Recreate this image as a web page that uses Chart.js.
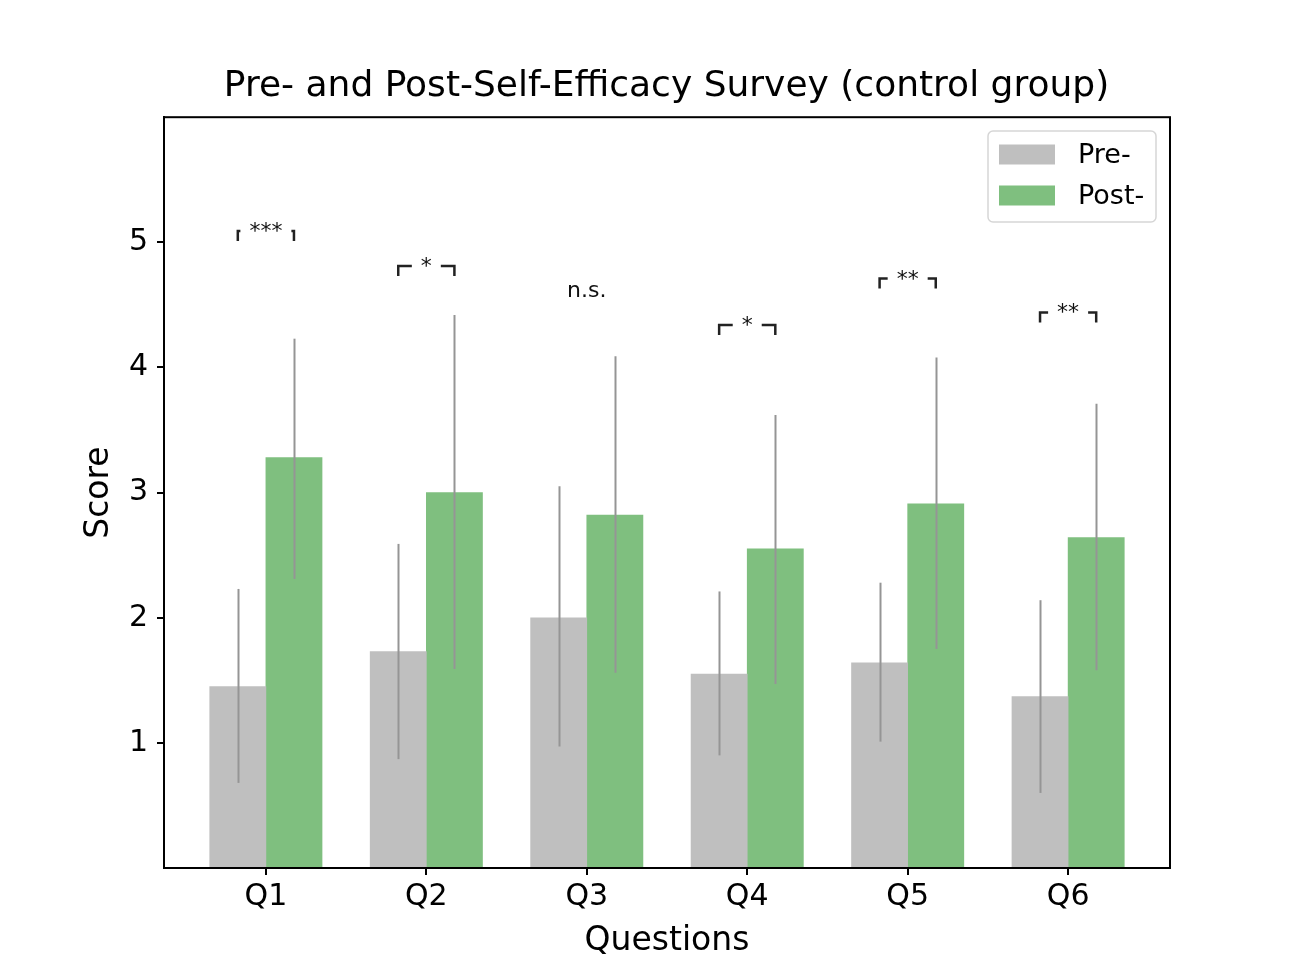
<!DOCTYPE html>
<html>
<head>
<meta charset="utf-8">
<script src="https://cdn.jsdelivr.net/npm/chart.js@4.4.1/dist/chart.umd.min.js"></script>
<style>
  html, body { margin: 0; padding: 0; background: #fff; }
  #wrap { width: 1300px; height: 975px; }
</style>
</head>
<body>
<div id="wrap"><canvas id="chart" width="1300" height="975"></canvas></div>
<script>
const questions = ["Q1", "Q2", "Q3", "Q4", "Q5", "Q6"];
const preMeans = [1.45, 1.73, 2.00, 1.55, 1.64, 1.37];
const preLow = [0.68, 0.87, 0.97, 0.90, 1.01, 0.60];
const preHigh = [2.23, 2.59, 3.05, 2.21, 2.28, 2.14];
const postMeans = [3.28, 3.00, 2.82, 2.55, 2.91, 2.64];
const postLow = [2.31, 1.59, 1.56, 1.47, 1.75, 1.58];
const postHigh = [4.23, 4.42, 4.09, 3.62, 4.08, 3.71];
const sigLabels = ["***", "*", "n.s.", "*", "**", "**"];
const sigLevels = [5.09, 4.81, 4.62, 4.34, 4.71, 4.44];
const yTicks = [1, 2, 3, 4, 5];

const barWidth = 0.35;
const preColor = "#bfbfbf";
const postColor = "#7fbf7f";
const font = "DejaVu Sans";

const prePoints = preMeans.map((v, i) => ({ x: i - barWidth / 2, y: v }));
const postPoints = postMeans.map((v, i) => ({ x: i + barWidth / 2, y: v }));

const overlayPlugin = {
    id: "overlay",
    afterDatasetsDraw(chart) {
        const { ctx, chartArea, scales: { x, y } } = chart;
        ctx.save();

        // error bars
        ctx.strokeStyle = "#959595";
        ctx.lineWidth = 2;
        [[prePoints, preLow, preHigh], [postPoints, postLow, postHigh]].forEach(([pts, lo, hi]) => {
            pts.forEach((p, i) => {
                const px = Math.round(x.getPixelForValue(p.x)) + 0.5;
                ctx.beginPath();
                ctx.moveTo(px, y.getPixelForValue(lo[i]));
                ctx.lineTo(px, y.getPixelForValue(hi[i]));
                ctx.stroke();
            });
        });

        // significance brackets
        ctx.font = `22px "${font}"`;
        ctx.textAlign = "center";
        ctx.textBaseline = "alphabetic";
        sigLabels.forEach((label, i) => {
            const x1 = x.getPixelForValue(prePoints[i].x);
            const x2 = x.getPixelForValue(postPoints[i].x);
            const cx = (x1 + x2) / 2;
            const ly = y.getPixelForValue(sigLevels[i]);
            const tw = ctx.measureText(label).width;
            if (label !== "n.s.") {
                const gap = tw / 2 + 9;
                ctx.strokeStyle = "#222";
                ctx.lineWidth = 2.5;
                ctx.beginPath();
                ctx.moveTo(x1, ly + 10);
                ctx.lineTo(x1, ly);
                ctx.lineTo(Math.max(x1, cx - gap), ly);
                ctx.moveTo(Math.min(x2, cx + gap), ly);
                ctx.lineTo(x2, ly);
                ctx.lineTo(x2, ly + 10);
                ctx.stroke();
            }
            ctx.fillStyle = "#111";
            ctx.fillText(label, cx, ly + 7);
        });

        // frame
        ctx.strokeStyle = "#000";
        ctx.lineWidth = 2;
        ctx.strokeRect(chartArea.left, chartArea.top, chartArea.right - chartArea.left, chartArea.bottom - chartArea.top);

        // legend
        const lx = 988, ly = 131, lw = 168, lh = 91;
        ctx.fillStyle = "rgba(255,255,255,0.8)";
        ctx.strokeStyle = "#d6d6d6";
        ctx.lineWidth = 1.5;
        ctx.beginPath();
        ctx.roundRect(lx, ly, lw, lh, 5);
        ctx.fill();
        ctx.stroke();
        ctx.font = `27px "${font}"`;
        ctx.textAlign = "left";
        ctx.textBaseline = "middle";
        [["Pre-", preColor, 154.5], ["Post-", postColor, 195.5]].forEach(([txt, col, cy]) => {
            ctx.fillStyle = col;
            ctx.fillRect(999, cy - 10, 56, 20);
            ctx.fillStyle = "#000";
            ctx.fillText(txt, 1078, cy + 1);
        });

        ctx.restore();
    }
};

new Chart(document.getElementById("chart"), {
    type: "bar",
    data: {
        datasets: [
            { label: "Pre-", data: prePoints, backgroundColor: preColor },
            { label: "Post-", data: postPoints, backgroundColor: postColor }
        ]
    },
    options: {
        responsive: false,
        animation: false,
        devicePixelRatio: 1,
        grouped: false,
        barPercentage: 1,
        categoryPercentage: 1,
        layout: { padding: { left: 33, right: 0, top: 0, bottom: 0 } },
        plugins: {
            legend: { display: false },
            tooltip: { enabled: false },
            title: {
                display: true,
                text: "Pre- and Post-Self-Efficacy Survey (control group)",
                color: "#000",
                font: { family: font, size: 36, weight: "normal" },
                padding: { top: 65, bottom: 9 }
            }
        },
        scales: {
            x: {
                type: "linear",
                min: -0.635,
                max: 5.635,
                offset: false,
                afterBuildTicks: s => { s.ticks = questions.map((q, i) => ({ value: i })); },
                afterFit: s => { s.height = 107; },
                ticks: {
                    callback: v => questions[v],
                    color: "#000",
                    padding: 4,
                    maxRotation: 0,
                    font: { family: font, size: 30 }
                },
                grid: { display: true, offset: false, drawOnChartArea: false, drawTicks: true, tickLength: 7, color: "#000", lineWidth: 2 },
                border: { display: true, color: "#000", width: 2 },
                title: {
                    display: true,
                    text: "Questions",
                    color: "#000",
                    font: { family: font, size: 33 },
                    padding: { top: 0, bottom: 14 }
                }
            },
            y: {
                type: "linear",
                min: 0,
                max: 6,
                afterBuildTicks: s => { s.ticks = yTicks.map(v => ({ value: v })); },
                afterFit: s => { s.width = 131; },
                ticks: {
                    color: "#000",
                    padding: 9,
                    font: { family: font, size: 30 }
                },
                grid: { display: true, drawOnChartArea: false, drawTicks: true, tickLength: 7, color: "#000", lineWidth: 2 },
                border: { display: true, color: "#000", width: 2 },
                title: {
                    display: true,
                    text: "Score",
                    color: "#000",
                    font: { family: font, size: 33 },
                    padding: { top: 47, bottom: 0 }
                }
            },
            yRight: {
                type: "linear",
                position: "right",
                display: true,
                afterFit: s => { s.width = 130; },
                ticks: { display: false },
                grid: { display: false },
                border: { display: false }
            }
        }
    },
    plugins: [overlayPlugin]
});
</script>
</body>
</html>
